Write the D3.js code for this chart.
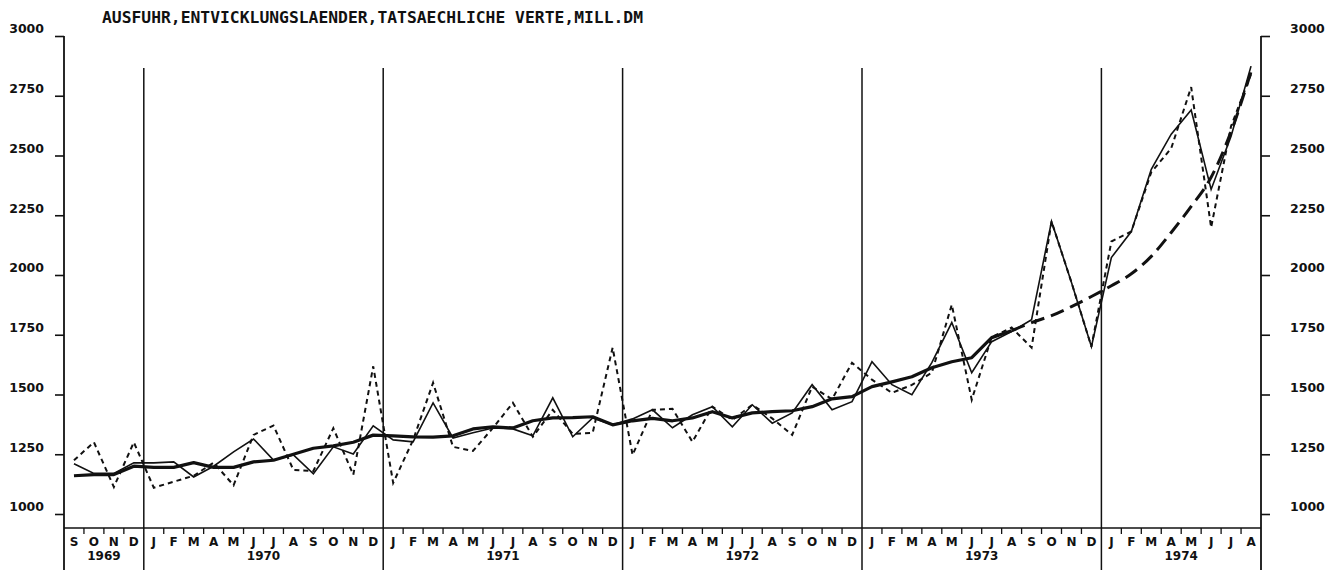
<!DOCTYPE html>
<html>
<head>
<meta charset="utf-8">
<script src="https://cdn.jsdelivr.net/npm/d3@7/dist/d3.min.js"></script>
<style>
  html, body { margin: 0; padding: 0; background: #fff; }
  svg { display: block; }
  text { font-family: "DejaVu Sans", sans-serif; font-weight: bold; fill: #111; }
</style>
</head>
<body>
<svg id="chart" width="1343" height="570"></svg>
<script>
// ---------- data ----------
const title = "AUSFUHR,ENTVICKLUNGSLAENDER,TATSAECHLICHE VERTE,MILL.DM";
const monthLabels = ["S","O","N","D",
  "J","F","M","A","M","J","J","A","S","O","N","D",
  "J","F","M","A","M","J","J","A","S","O","N","D",
  "J","F","M","A","M","J","J","A","S","O","N","D",
  "J","F","M","A","M","J","J","A","S","O","N","D",
  "J","F","M","A","M","J","J","A"];
const yearLabels = ["1969","1970","1971","1972","1973","1974"];
const yearMonthCounts = [4,12,12,12,12,8];
const yTicks = [1000,1250,1500,1750,2000,2250,2500,2750,3000];

// seasonally adjusted values (thin solid line)
const adjusted = [1210,1170,1170,1214,
  1214,1218,1155,1200,1260,1314,1226,1247,1168,1281,1251,1369,
  1310,1302,1465,1318,1340,1360,1356,1327,1486,1323,1402,1373,
  1398,1436,1361,1415,1449,1365,1457,1380,1423,1541,1436,1470,
  1637,1541,1499,1633,1801,1591,1721,1763,1813,2224,1969,1700,
  2073,2182,2442,2589,2690,2358,2581,2874];
// actual values (dotted line)
const actual = [1225,1300,1113,1300,
  1110,1135,1160,1215,1120,1331,1370,1184,1180,1359,1164,1618,
  1130,1310,1549,1281,1264,1360,1465,1323,1436,1335,1340,1696,
  1247,1436,1440,1302,1449,1394,1457,1400,1331,1533,1480,1633,
  1562,1507,1540,1591,1876,1478,1740,1780,1696,2224,1969,1700,
  2140,2182,2430,2530,2786,2199,2623,2840];
// trend (thick solid line), S 1969 .. A 1973
const trend = [1160,1165,1165,1200,
  1195,1195,1215,1195,1195,1218,1225,1250,1275,1285,1300,1330,
  1327,1323,1322,1327,1356,1365,1360,1390,1402,1403,1407,1373,
  1390,1400,1390,1402,1428,1402,1423,1428,1432,1449,1482,1491,
  1533,1553,1574,1612,1637,1654,1738,1767];
// trend continuation (thick dashed line), A 1973 .. A 1974
const trendExtStart = 47;
const trendExt = [1767,1801,1830,1868,1910,1955,2005,2078,2178,2287,2409,2600,2850];

// ---------- layout ----------
const svg = d3.select("#chart");
const xLeft = 64, xRight = 1261;
const nMonths = monthLabels.length;
const x = d3.scaleLinear().domain([0, nMonths]).range([xLeft, xRight]);
const y = d3.scaleLinear().domain([1000, 3000]).range([514, 36]);
const axisTop = 36, axisBottom = 570, yearLineTop = 68, boxTop = 528;

const g = svg.append("g");

// title
g.append("text").attr("x", 102).attr("y", 23)
  .attr("textLength", 541).attr("lengthAdjust", "spacingAndGlyphs")
  .style("font-family", "'DejaVu Sans Mono', monospace")
  .style("font-size", "15px").text(title);

// y axes
const leftAxis = d3.axisLeft(y).tickValues(yTicks).tickSize(9).tickPadding(11).tickFormat(d3.format("d"));
const rightAxis = d3.axisRight(y).tickValues(yTicks).tickSize(9).tickPadding(20).tickFormat(d3.format("d"));
const la = g.append("g").attr("transform", `translate(${xLeft},0)`).call(leftAxis);
const ra = g.append("g").attr("transform", `translate(${xRight},0)`).call(rightAxis);
[la, ra].forEach(a => {
  a.select(".domain").remove();
  a.selectAll(".tick line").attr("stroke", "#111").attr("stroke-width", 1.6);
  a.selectAll(".tick text").attr("dy", "-0.25em")
    .style("font-size", "12.5px").style("font-family", "'DejaVu Sans', sans-serif")
    .attr("fill", "#111");
});
g.append("line").attr("x1", xLeft).attr("x2", xLeft).attr("y1", axisTop).attr("y2", axisBottom)
  .attr("stroke", "#111").attr("stroke-width", 1.8);
g.append("line").attr("x1", xRight).attr("x2", xRight).attr("y1", axisTop).attr("y2", axisBottom)
  .attr("stroke", "#111").attr("stroke-width", 1.8);

// year separators
let cum = 0;
const yearStarts = [];
yearMonthCounts.forEach(n => { yearStarts.push(cum); cum += n; });
yearStarts.slice(1).forEach(s => {
  g.append("line").attr("x1", x(s)).attr("x2", x(s)).attr("y1", yearLineTop).attr("y2", axisBottom)
    .attr("stroke", "#111").attr("stroke-width", 1.5);
});

// month box
g.append("line").attr("x1", xLeft).attr("x2", xRight).attr("y1", boxTop).attr("y2", boxTop)
  .attr("stroke", "#111").attr("stroke-width", 1.5);
d3.range(1, nMonths).filter(i => !yearStarts.includes(i)).forEach(i => {
  g.append("line").attr("x1", x(i)).attr("x2", x(i)).attr("y1", boxTop).attr("y2", boxTop + 6)
    .attr("stroke", "#111").attr("stroke-width", 1.3);
});
g.selectAll("text.month").data(monthLabels).enter().append("text")
  .attr("class", "month")
  .attr("x", (d, i) => x(i + 0.5)).attr("y", 546)
  .attr("text-anchor", "middle").style("font-size", "12px")
  .text(d => d);
g.selectAll("text.year").data(yearLabels).enter().append("text")
  .attr("class", "year")
  .attr("x", (d, i) => x(yearStarts[i] + yearMonthCounts[i] / 2)).attr("y", 560)
  .attr("text-anchor", "middle").style("font-size", "12px")
  .text(d => d);

// series
const line = d3.line().x(d => x(d[0] + 0.5)).y(d => y(d[1]));
const toPts = (arr, off) => arr.map((v, i) => [i + off, v]);

g.append("path").datum(toPts(actual, 0)).attr("d", line)
  .attr("fill", "none").attr("stroke", "#111").attr("stroke-width", 2)
  .attr("stroke-dasharray", "5,4");
g.append("path").datum(toPts(adjusted, 0)).attr("d", line)
  .attr("fill", "none").attr("stroke", "#111").attr("stroke-width", 1.6)
  .attr("stroke-linejoin", "miter");
g.append("path").datum(toPts(trend, 0)).attr("d", line)
  .attr("fill", "none").attr("stroke", "#111").attr("stroke-width", 3.2)
  .attr("stroke-linejoin", "round");
g.append("path").datum(toPts(trendExt, trendExtStart)).attr("d", line.curve(d3.curveMonotoneX))
  .attr("fill", "none").attr("stroke", "#111").attr("stroke-width", 3)
  .attr("stroke-dasharray", "14,7");
</script>
</body>
</html>
